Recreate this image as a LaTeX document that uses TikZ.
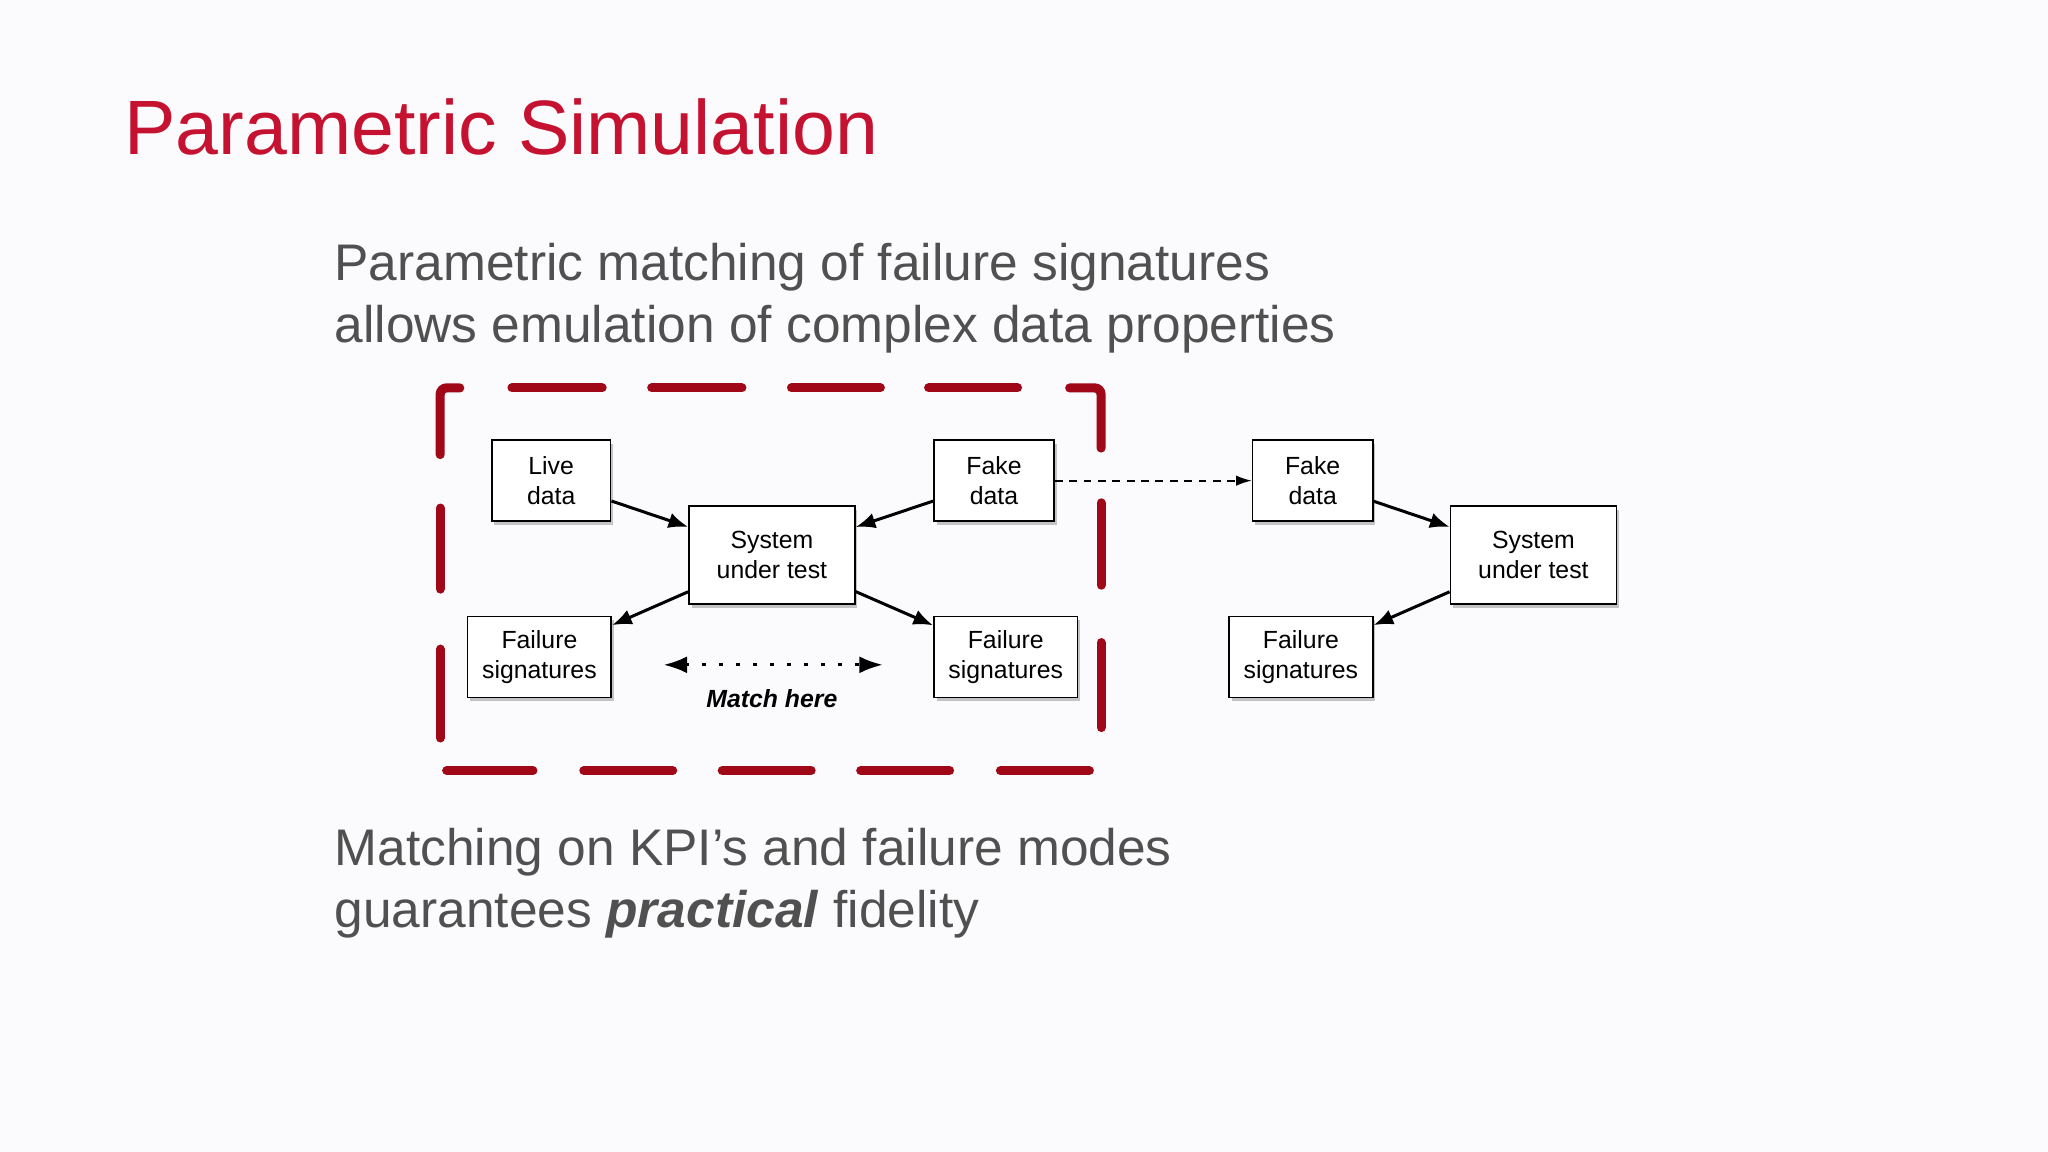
\documentclass[tikz,border=0pt]{standalone}
\usepackage{fontspec}
\setmainfont{Liberation Sans}
\usetikzlibrary{arrows.meta,shadows}
\definecolor{ttl}{RGB}{196,18,48}
\definecolor{txt}{RGB}{80,80,80}
\definecolor{dred}{RGB}{160,8,24}
\definecolor{bg}{RGB}{251,250,252}
\begin{document}
\begin{tikzpicture}[x=1pt,y=-1pt,
  box/.style={draw=black,fill=white,line width=1.3pt,align=center,font=\fontsize{19}{23}\selectfont,
    inner sep=0pt,drop shadow={shadow xshift=2pt,shadow yshift=-3pt,opacity=0.45}},
  arr/.style={line width=2.3pt,-{Latex[length=15pt,width=12pt]}},
  rd/.style={dred,line width=7pt,line cap=round,rounded corners=5pt},
  body/.style={anchor=base west,text=txt,font=\fontsize{39.4}{48}\selectfont,inner sep=0pt}]
\fill[bg] (0,0) rectangle (1568,882);
\useasboundingbox (0,0) rectangle (1568,882);
\node[anchor=base west,text=ttl,font=\fontsize{59}{72}\selectfont,inner sep=0pt] (title) at (95,118) {Parametric Simulation};
\node[body] (l1) at (256,215) {Parametric matching of failure signatures};
\node[body] (l2) at (256,262) {allows emulation of complex data properties};
\node[body] (l3) at (256,663) {Matching on KPI’s and failure modes};
\node[body] (l4) at (256,710) {guarantees \textbf{\textit{practical}} fidelity};
% dashed frame
\draw[rd] (337,348) -- (337,297) -- (352,297);
\foreach \a/\b in {392/461,499/568,606/674,711/779} \draw[rd] (\a,297) -- (\b,297);
\draw[rd] (819,297) -- (843,297) -- (843,343);
\foreach \a/\b in {385/448,492/557} \draw[rd] (843,\a) -- (843,\b);
\foreach \a/\b in {342/408,447/515,553/621,659/727,766/834} \draw[rd] (\a,590) -- (\b,590);
\foreach \a/\b in {389/451,497/565} \draw[rd] (337,\a) -- (337,\b);
\node[box,minimum width=91,minimum height=62] (live) at (422,368) {Live\\data};
\node[box,minimum width=127,minimum height=75] (sut) at (591,425) {System\\under test};
\node[box,minimum width=92,minimum height=62] (fake) at (761,368) {Fake\\data};
\node[box,minimum width=110,minimum height=62] (fl) at (413,503) {Failure\\signatures};
\node[box,minimum width=110,minimum height=62] (fm) at (770,503) {Failure\\signatures};
\node[box,minimum width=92,minimum height=62] (fake2) at (1005,368) {Fake\\data};
\node[box,minimum width=127,minimum height=75] (sut2) at (1174,425) {System\\under test};
\node[box,minimum width=110,minimum height=62] (fr) at (996,503) {Failure\\signatures};
\draw[arr] (live) -- (sut);
\draw[arr] (fake) -- (sut);
\draw[arr] (sut) -- (fl);
\draw[arr] (sut) -- (fm);
\draw[arr] (fake2) -- (sut2);
\draw[arr] (sut2) -- (fr);
\draw[line width=1.3pt,dash pattern=on 6pt off 5pt,-{Latex[length=12pt,width=8pt]}] (fake) -- (fake2);
\coordinate (ma) at (508,509);
\coordinate (mb) at (676,509);
\draw[line width=2.5pt,dash pattern=on 3pt off 10pt,{Latex[length=18pt,width=13pt]}-{Latex[length=18pt,width=13pt]}] (ma) -- (mb);
\node[font=\fontsize{19}{23}\selectfont\bfseries\itshape] (match) at (591,535) {Match here};
\end{tikzpicture}
\end{document}
